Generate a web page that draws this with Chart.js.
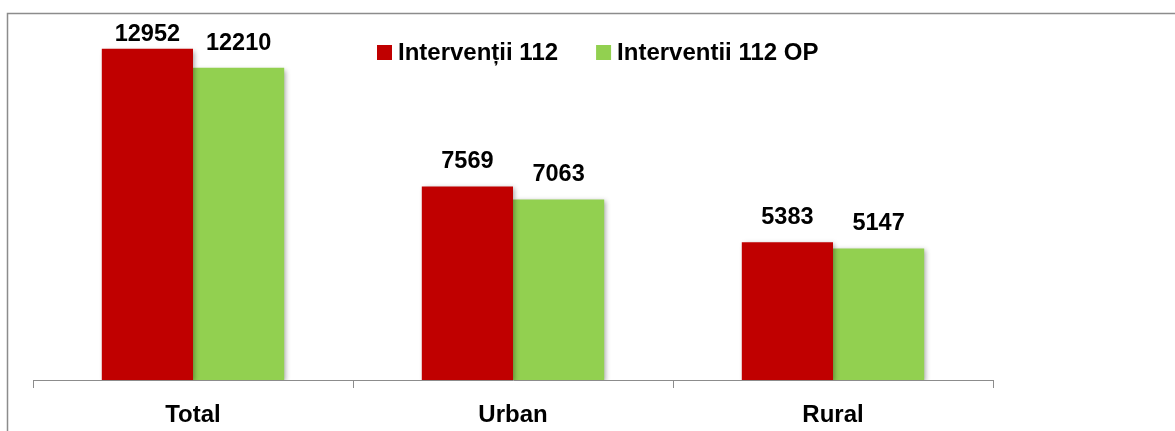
<!DOCTYPE html>
<html>
<head>
<meta charset="utf-8">
<script src="https://cdn.jsdelivr.net/npm/chart.js@4"></script>
<style>
  html, body { margin: 0; padding: 0; background: #fff; }
  canvas { display: block; }
</style>
</head>
<body>
<canvas id="myChart" width="1175" height="431"></canvas>
<script>
var categories = ['Total', 'Urban', 'Rural'];
var seriesNames = ['Intervenții 112', 'Interventii 112 OP'];
var interventii = [12952, 7569, 5383];
var interventiiOP = [12210, 7063, 5147];

var FONT = '"Liberation Sans", Arial, sans-serif';

// frame around the chart, bar shadows, value labels, legend
var decor = {
   id: 'decor',
   beforeDraw: function(chart) {
      var ctx = chart.ctx;
      ctx.save();
      ctx.strokeStyle = '#8c8c8c';
      ctx.lineWidth = 1.5;
      ctx.strokeRect(7.5, 13.5, 1400, 600);
      ctx.restore();
   },
   beforeDatasetsDraw: function(chart) {
      var ctx = chart.ctx;
      ctx.save();
      ctx.shadowColor = 'rgba(0,0,0,0.35)';
      ctx.shadowBlur = 5;
      ctx.shadowOffsetX = 2;
      ctx.shadowOffsetY = 2;
   },
   afterDatasetsDraw: function(chart) {
      var ctx = chart.ctx;
      ctx.restore();
      ctx.save();
      ctx.font = 'bold 23.5px ' + FONT;
      ctx.fillStyle = '#000';
      ctx.textAlign = 'center';
      ctx.textBaseline = 'alphabetic';
      chart.data.datasets.forEach(function(ds, i) {
         chart.getDatasetMeta(i).data.forEach(function(bar, j) {
            var y = Math.max(bar.y - 18, 41);
            ctx.fillText(String(ds.data[j]), bar.x, y);
         });
      });
      ctx.restore();
   },
   afterDraw: function(chart) {
      var ctx = chart.ctx;
      ctx.save();
      ctx.font = 'bold 24px ' + FONT;
      ctx.textBaseline = 'alphabetic';
      var x = 377;
      chart.data.datasets.forEach(function(ds) {
         ctx.fillStyle = ds.backgroundColor;
         ctx.fillRect(x, 45, 15, 15);
         ctx.fillStyle = '#000';
         ctx.fillText(ds.label, x + 21, 60);
         x += 21 + ctx.measureText(ds.label).width + 38;
      });
      ctx.restore();
   }
};

var ctx = document.getElementById('myChart').getContext('2d');
var chart = new Chart(ctx, {
   type: 'bar',
   data: {
      labels: categories,
      datasets: [{
         label: seriesNames[0],
         data: interventii,
         backgroundColor: '#C00000'
      }, {
         label: seriesNames[1],
         data: interventiiOP,
         backgroundColor: '#92D050'
      }]
   },
   options: {
      responsive: false,
      animation: false,
      devicePixelRatio: 1,
      layout: { padding: { left: 33, right: 182, top: 22, bottom: 0 } },
      datasets: {
         bar: { barPercentage: 1, categoryPercentage: 0.57 }
      },
      plugins: {
         legend: { display: false },
         tooltip: { enabled: false }
      },
      scales: {
         x: {
            afterFit: function(scale) { scale.height = 51; },
            grid: {
               display: true,
               drawOnChartArea: false,
               drawTicks: true,
               tickLength: 8,
               color: '#8c8c8c',
               offset: true
            },
            border: { display: true, color: '#8c8c8c', width: 1 },
            ticks: {
               color: '#000',
               padding: 13,
               font: { family: FONT, size: 24, weight: 'bold' }
            }
         },
         y: {
            display: false,
            min: 0,
            max: 14000
         }
      }
   },
   plugins: [decor]
});
</script>
</body>
</html>
